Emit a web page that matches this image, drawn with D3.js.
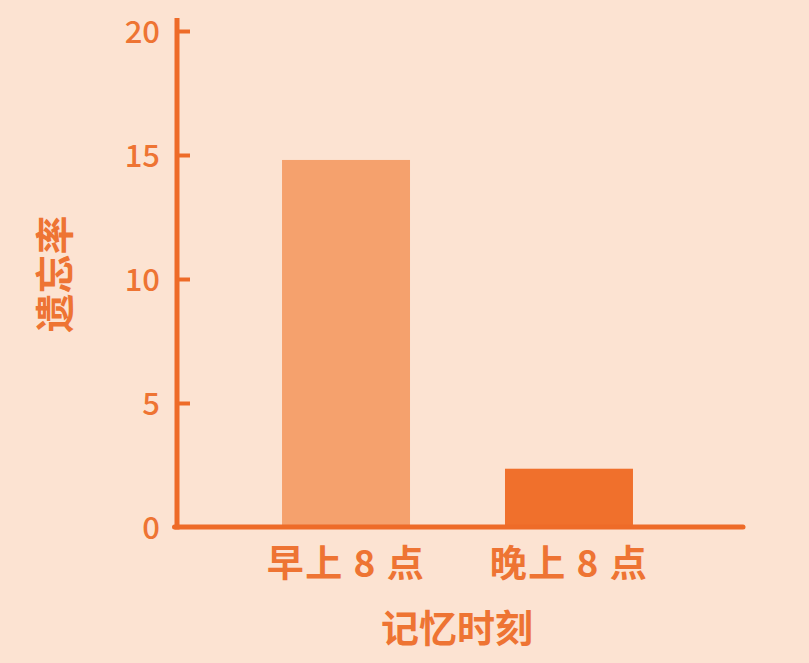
<!DOCTYPE html>
<html>
<head>
<meta charset="utf-8">
<script src="https://cdn.jsdelivr.net/npm/d3@7"></script>
<style>
  html, body { margin: 0; padding: 0; background: #fce3d2; }
  svg { display: block; }
</style>
</head>
<body>
<div id="chart"></div>
<script>
// Forgetting rate by time of memorising
const CATEGORIES = ['早上 8 点', '晚上 8 点'];
const VALUES     = [14.8, 2.35];
const BAR_COLORS = ['#f5a16d', '#f0702c'];
const Y_TICKS    = [0, 5, 10, 15, 20];
const Y_TITLE    = '遗忘率';
const X_TITLE    = '记忆时刻';

const W = 809, H = 663;
const AXIS = '#ee6b28';
const TEXT = '#ee7433';
const FONT = '"Noto Sans CJK SC", "Noto Sans", sans-serif';

const x0 = 177, x1 = 743;   // axis extents
const yBase = 527, yTop = 31;

const xScale = d3.scaleBand()
  .domain(CATEGORIES)
  .range([x0, 738])
  .paddingInner(0.426)
  .paddingOuter(0.471);

const yScale = d3.scaleLinear().domain([0, 20]).range([yBase, yTop]);

const svg = d3.select('#chart').append('svg').attr('width', W).attr('height', H);
svg.append('rect').attr('width', W).attr('height', H).attr('fill', '#fce3d2');

// Bars
svg.append('g')
  .selectAll('rect')
  .data(CATEGORIES)
  .join('rect')
  .attr('x', d => xScale(d))
  .attr('width', xScale.bandwidth())
  .attr('y', (d, i) => yScale(VALUES[i]))
  .attr('height', (d, i) => yBase - yScale(VALUES[i]))
  .attr('fill', (d, i) => BAR_COLORS[i]);

// Y axis: ticks point inward, labels on the left
svg.append('g')
  .attr('transform', `translate(${x0},0)`)
  .call(d3.axisLeft(yScale).tickValues(Y_TICKS).tickSize(-13).tickSizeOuter(0).tickPadding(17))
  .call(ax => ax.select('.domain').remove())
  .call(ax => ax.selectAll('.tick line').attr('stroke', AXIS).attr('stroke-width', 4))
  .call(ax => ax.selectAll('.tick').filter(d => d === 0).select('line').remove())
  .call(ax => ax.selectAll('text')
    .attr('fill', TEXT).attr('dy', '0.36em')
    .style('font-family', FONT).style('font-size', '31px').style('font-weight', 500));

// Axis lines
svg.append('line')
  .attr('x1', x0).attr('x2', x0).attr('y1', yTop - 13).attr('y2', yBase + 2.5)
  .attr('stroke', AXIS).attr('stroke-width', 5);
svg.append('line')
  .attr('x1', x0 - 2.5).attr('x2', x1).attr('y1', yBase).attr('y2', yBase)
  .attr('stroke', AXIS).attr('stroke-width', 5).attr('stroke-linecap', 'round');

// X category labels
svg.append('g')
  .attr('transform', `translate(0,${yBase})`)
  .call(d3.axisBottom(xScale).tickSize(0).tickPadding(0))
  .call(ax => ax.select('.domain').remove())
  .call(ax => ax.selectAll('text')
    .attr('y', 37).attr('dy', '0.36em')
    .attr('fill', TEXT)
    .style('font-family', FONT).style('font-size', '37px').style('font-weight', 700)
    .style('letter-spacing', '1.5px'));

// Axis titles
svg.append('text')
  .attr('x', 457).attr('y', 628).attr('dy', '0.36em')
  .attr('text-anchor', 'middle').attr('fill', TEXT)
  .style('font-family', FONT).style('font-size', '38px').style('font-weight', 700)
  .text(X_TITLE);

svg.append('text')
  .attr('transform', 'translate(55,274) rotate(-90)')
  .attr('dy', '0.36em')
  .attr('text-anchor', 'middle').attr('fill', TEXT)
  .style('font-family', FONT).style('font-size', '39px').style('font-weight', 700)
  .text(Y_TITLE);
</script>
</body>
</html>
